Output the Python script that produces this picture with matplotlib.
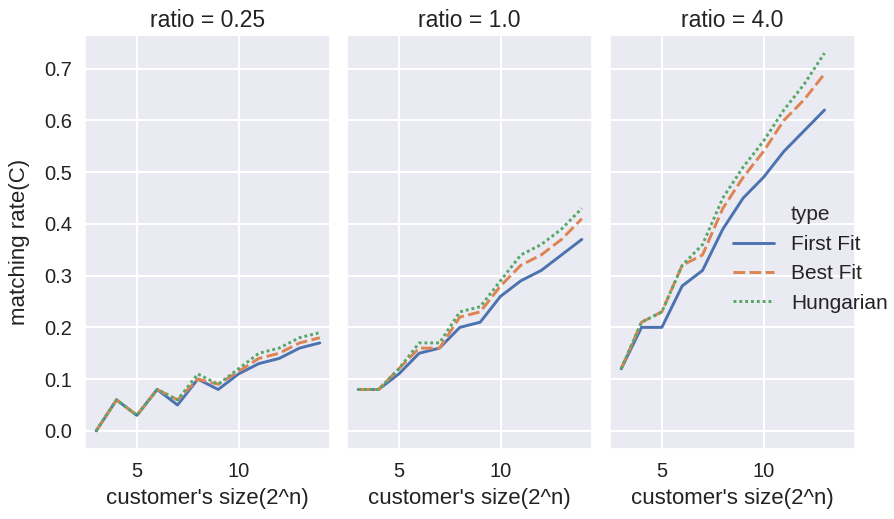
import numpy as np
import pandas as pd
import matplotlib
matplotlib.use("Agg")
import matplotlib.pyplot as plt
import seaborn as sns

sns.set_theme(style="darkgrid", rc={"grid.linewidth": 1.5})
plt.rcParams['font.family'] = ['Liberation Sans', 'DejaVu Sans']

ratios = [0.25, 1.0, 4.0]
types = ["First Fit", "Best Fit", "Hungarian"]
n_small = list(range(3, 15))   # ratio 0.25 and 1.0
n_big = list(range(3, 14))     # ratio 4.0

# ratio = 0.25
r025_first = [0.0, 0.06, 0.03, 0.08, 0.05, 0.10, 0.08, 0.11, 0.13, 0.14, 0.16, 0.17]
r025_best = [0.0, 0.06, 0.03, 0.08, 0.06, 0.10, 0.09, 0.115, 0.14, 0.15, 0.17, 0.18]
r025_hung = [0.0, 0.06, 0.03, 0.08, 0.06, 0.11, 0.09, 0.12, 0.15, 0.16, 0.18, 0.19]
# ratio = 1.0
r1_first = [0.08, 0.08, 0.11, 0.15, 0.16, 0.20, 0.21, 0.26, 0.29, 0.31, 0.34, 0.37]
r1_best = [0.08, 0.08, 0.12, 0.16, 0.16, 0.22, 0.23, 0.28, 0.32, 0.34, 0.37, 0.41]
r1_hung = [0.08, 0.08, 0.12, 0.17, 0.17, 0.23, 0.24, 0.29, 0.34, 0.36, 0.39, 0.43]
# ratio = 4.0
r4_first = [0.12, 0.20, 0.20, 0.28, 0.31, 0.39, 0.45, 0.49, 0.54, 0.58, 0.62]
r4_best = [0.12, 0.21, 0.23, 0.32, 0.34, 0.43, 0.49, 0.54, 0.60, 0.64, 0.69]
r4_hung = [0.12, 0.21, 0.23, 0.32, 0.36, 0.45, 0.51, 0.56, 0.62, 0.67, 0.73]

rows = []
for ratio, ns, series in [
    (0.25, n_small, [r025_first, r025_best, r025_hung]),
    (1.0, n_small, [r1_first, r1_best, r1_hung]),
    (4.0, n_big, [r4_first, r4_best, r4_hung]),
]:
    for t, vals in zip(types, series):
        for n, v in zip(ns, vals):
            rows.append({"ratio": ratio, "type": t, "n": n, "rate": v})
df = pd.DataFrame(rows)

fig = plt.figure(figsize=(8.94, 5.19), dpi=100)
W, H = 894, 519
lefts = [85, 347, 610]
axw = 245
top, bottom = 35, 449
axes = []
for i, left in enumerate(lefts):
    ax = fig.add_axes([left / W, 1 - bottom / H, axw / W, (bottom - top) / H],
                      sharex=axes[0] if axes else None, sharey=axes[0] if axes else None)
    axes.append(ax)

palette = sns.color_palette("deep", 3)
dashes = {"First Fit": "", "Best Fit": (4, 1.5), "Hungarian": (1, 1)}
for ax, r in zip(axes, ratios):
    sub = df[df["ratio"] == r]
    sns.lineplot(data=sub, x="n", y="rate", hue="type", style="type",
                 hue_order=types, style_order=types, palette=palette,
                 dashes=dashes, linewidth=2.1, ax=ax, legend=(r == 4.0))
    ax.set_title(f"ratio = {r}", fontsize=16.5, color="#222222")
    ax.set_xlabel("customer's size(2^n)", fontsize=16, labelpad=5, color="#222222")
    ax.set_ylabel("")
    ax.tick_params(labelsize=14.5, labelcolor="#222222")

axes[0].set_ylabel("matching rate(C)", fontsize=16, color="#222222", labelpad=10)
axes[0].set_xticks([5, 10])
axes[0].set_yticks(np.arange(0, 0.71, 0.1))
axes[0].set_xlim(2.45, 14.5)
axes[0].set_ylim(-0.035, 0.765)
for ax in axes[1:]:
    ax.tick_params(labelleft=False)

leg = axes[2].get_legend()
handles, labels = axes[2].get_legend_handles_labels()
leg.remove()
fig.legend(handles, labels, title="type", loc="center left",
           bbox_to_anchor=(714 / W, 1 - 259 / H), frameon=False,
           fontsize=15, title_fontsize=15, labelcolor="#222222")

fig.savefig("out.png", dpi=100)
